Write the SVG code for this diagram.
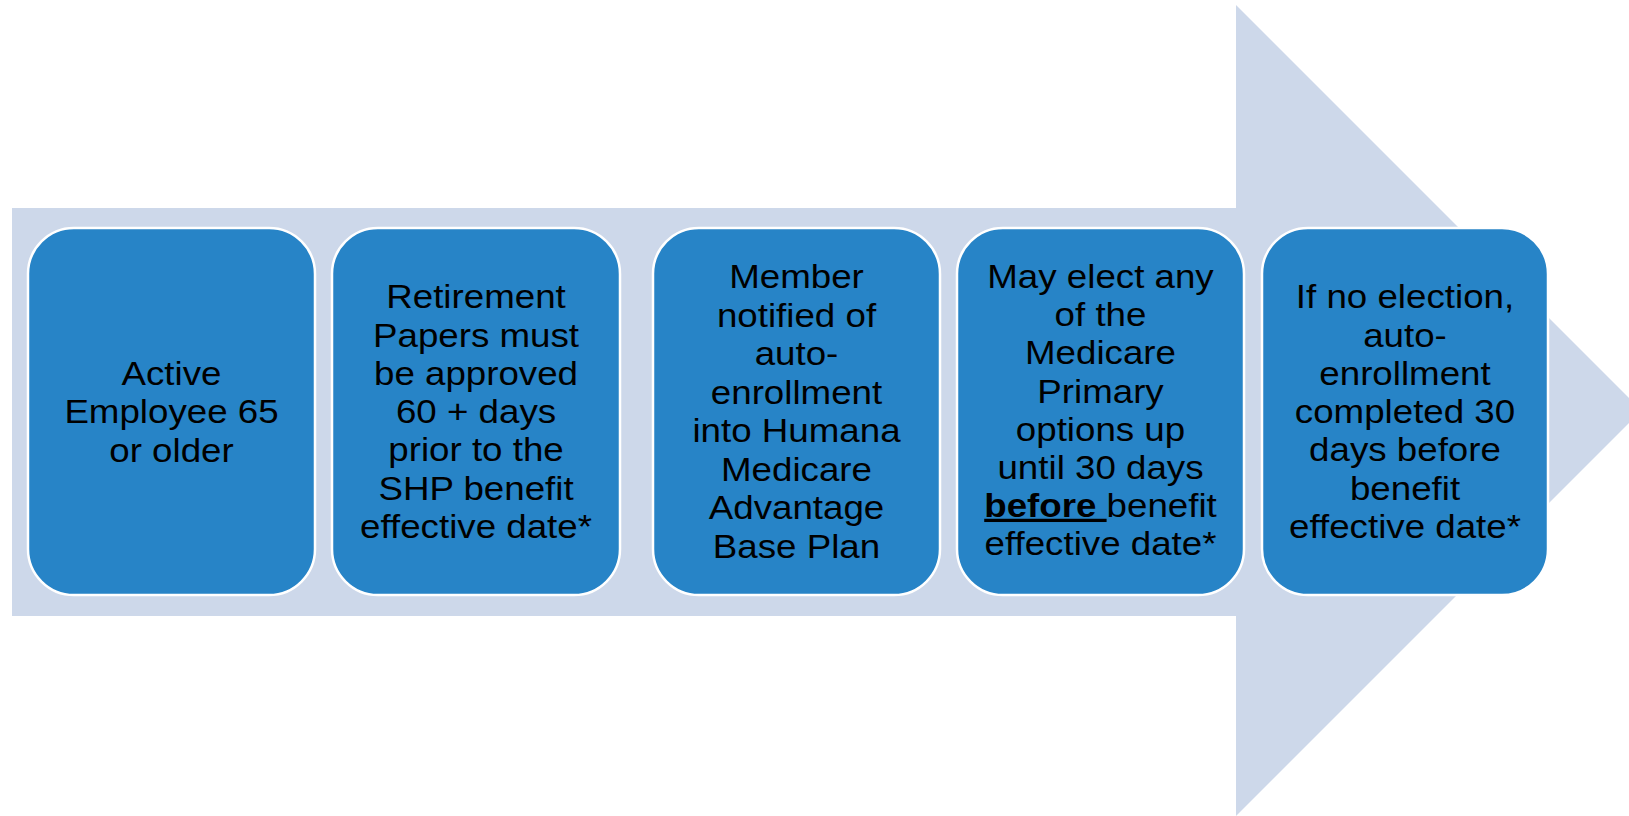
<svg xmlns="http://www.w3.org/2000/svg" width="1629" height="816" viewBox="0 0 1629 816">
<style>
.box{fill:#2784C7;stroke:#FFFFFF;stroke-width:2.5}
.t{font-family:"Liberation Sans",Arial,sans-serif;font-size:32.5px;fill:#000;text-anchor:middle}
.b{font-weight:bold;text-decoration:underline}
</style>
<rect width="1629" height="816" fill="#FFFFFF"/>
<g id="connectors">
<polygon id="arrow" points="12,208 1236,208 1236,5 1641.5,410.5 1236,816 1236,616 12,616" fill="#CDD8EA"/>
</g>
<g id="node1">
<rect class="box" x="28" y="228" width="287" height="367" rx="46" ry="46"/>
<text class="t" transform="translate(171.5 0) scale(1.13 1)"><tspan x="0" y="385">Active</tspan><tspan x="0" y="423.3">Employee 65</tspan><tspan x="0" y="461.7">or older</tspan></text>
</g>
<g id="node2">
<rect class="box" x="332" y="228" width="288" height="367" rx="46" ry="46"/>
<text class="t" transform="translate(476 0) scale(1.13 1)"><tspan x="0" y="308.3">Retirement</tspan><tspan x="0" y="346.6">Papers must</tspan><tspan x="0" y="384.9">be approved</tspan><tspan x="0" y="423.2">60 + days</tspan><tspan x="0" y="461.5">prior to the</tspan><tspan x="0" y="499.8">SHP benefit</tspan><tspan x="0" y="538.1">effective date*</tspan></text>
</g>
<g id="node3">
<rect class="box" x="653" y="228" width="287" height="367" rx="46" ry="46"/>
<text class="t" transform="translate(796.5 0) scale(1.13 1)"><tspan x="0" y="288.3">Member</tspan><tspan x="0" y="326.8">notified of</tspan><tspan x="0" y="365.3">auto-</tspan><tspan x="0" y="403.8">enrollment</tspan><tspan x="0" y="442.3">into Humana</tspan><tspan x="0" y="480.8">Medicare</tspan><tspan x="0" y="519.3">Advantage</tspan><tspan x="0" y="557.8">Base Plan</tspan></text>
</g>
<g id="node4">
<rect class="box" x="957" y="228" width="287" height="367" rx="46" ry="46"/>
<text class="t" transform="translate(1100.5 0) scale(1.13 1)"><tspan x="0" y="288.3">May elect any</tspan><tspan x="0" y="326.4">of the</tspan><tspan x="0" y="364.5">Medicare</tspan><tspan x="0" y="402.6">Primary</tspan><tspan x="0" y="440.7">options up</tspan><tspan x="0" y="478.8">until 30 days</tspan><tspan x="0" y="516.9"><tspan class="b">before </tspan>benefit</tspan><tspan x="0" y="555">effective date*</tspan></text>
</g>
<g id="node5">
<rect class="box" x="1262" y="228" width="286" height="367" rx="46" ry="46"/>
<text class="t" transform="translate(1405 0) scale(1.13 1)"><tspan x="0" y="308.3">If no election,</tspan><tspan x="0" y="346.6">auto-</tspan><tspan x="0" y="384.9">enrollment</tspan><tspan x="0" y="423.2">completed 30</tspan><tspan x="0" y="461.5">days before</tspan><tspan x="0" y="499.8">benefit</tspan><tspan x="0" y="538.1">effective date*</tspan></text>
</g>
</svg>
